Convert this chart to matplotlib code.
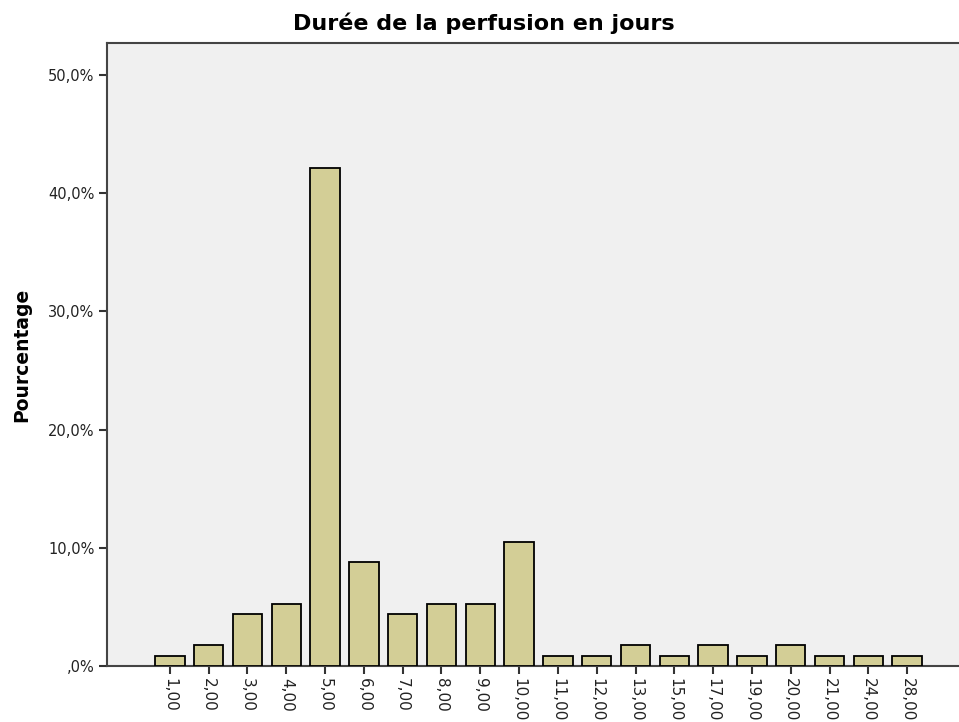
import matplotlib
matplotlib.use("Agg")
import matplotlib.pyplot as plt

# Durée de la perfusion (jours) et pourcentage des patients
jours = ["1,00", "2,00", "3,00", "4,00", "5,00", "6,00", "7,00", "8,00", "9,00", "10,00",
         "11,00", "12,00", "13,00", "15,00", "17,00", "19,00", "20,00", "21,00", "24,00", "28,00"]
pourcentage = [0.88, 1.75, 4.39, 5.26, 42.11, 8.77, 4.39, 5.26, 5.26, 10.53,
               0.88, 0.88, 1.75, 0.88, 1.75, 0.88, 1.75, 0.88, 0.88, 0.88]
yticks = [0, 10, 20, 30, 40, 50]


def fmt_pct(v):
    s = f"{v:.1f}".replace(".", ",")
    if s.startswith("0,"):
        s = s[1:]
    return s + "%"


fig = plt.figure(figsize=(9.59, 7.22), dpi=100)
ax = fig.add_axes([107 / 959, 56 / 722, (970 - 107) / 959, (666 - 43) / 722])
ax.set_facecolor("#f0f0f0")

x = list(range(len(jours)))
ax.bar(x, pourcentage, width=0.76, color="#d3ce96", edgecolor="black", linewidth=1.3, zorder=3)

ax.set_xlim(-1.62, len(jours) - 1 + 1.62)
ax.set_ylim(0, 52.7)

ax.set_yticks(yticks)
ax.set_yticklabels([fmt_pct(v) for v in yticks], fontsize=10.5, color="#222222")
ax.set_xticks(x)
ax.set_xticklabels(jours, rotation=-90, fontsize=11, color="#222222", va="top", ha="center")

ax.tick_params(axis="both", direction="out", length=6, width=1.5, color="#333333", pad=3)
for side in ["left", "bottom", "top", "right"]:
    ax.spines[side].set_color("#444444")
    ax.spines[side].set_linewidth(1.5)

fig.text(0.505, 0.968, "Durée de la perfusion en jours", ha="center", va="center",
         fontsize=16, fontweight="bold")
fig.text(0.023, 0.508, "Pourcentage", rotation=90, ha="center", va="center",
         fontsize=13.5, fontweight="bold")

fig.savefig("out.png", dpi=100)
